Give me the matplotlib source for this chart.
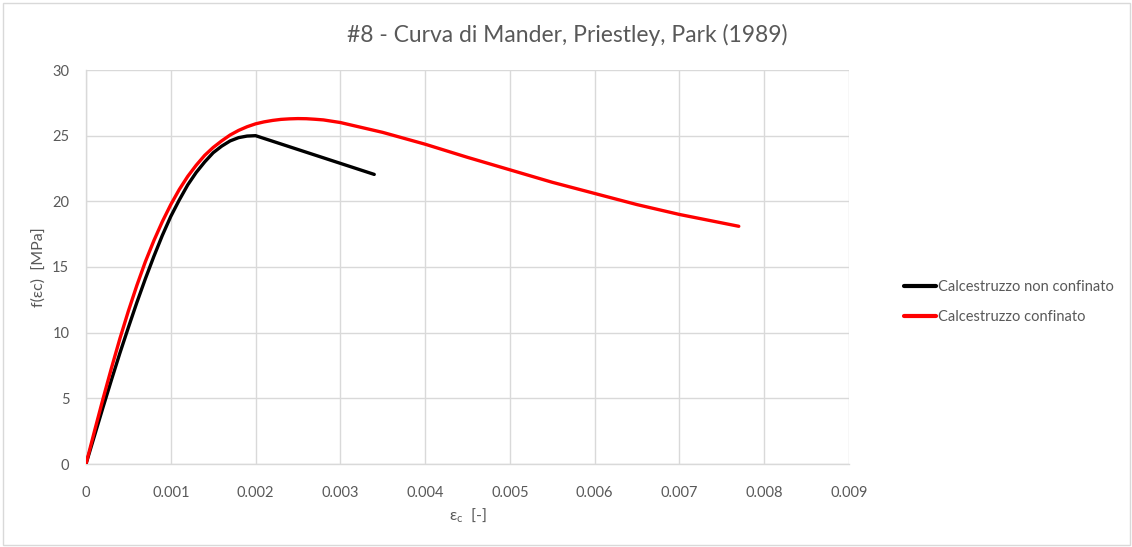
import matplotlib
matplotlib.use("Agg")
import matplotlib.pyplot as plt
from matplotlib.patches import Rectangle

plt.rcParams['font.family'] = ['Lato', 'DejaVu Sans']

# Unconfined concrete (Mander model, fc = 25 MPa)
eps_unconf = [0.0, 0.0001, 0.0002, 0.0003, 0.0004, 0.0005, 0.0006, 0.0007,
              0.0008, 0.0009, 0.0010, 0.0011, 0.0012, 0.0013, 0.0014, 0.0015,
              0.0016, 0.0017, 0.0018, 0.0019, 0.0020, 0.0034]
f_unconf = [0.0, 2.15, 4.3, 6.4, 8.45, 10.4, 12.3, 14.1, 15.8, 17.4, 18.85,
            20.1, 21.25, 22.2, 23.0, 23.7, 24.2, 24.6, 24.85, 24.97, 25.0, 22.05]

# Confined concrete (Mander model, fcc ~ 26.3 MPa)
eps_conf = [0.0, 0.0001, 0.0002, 0.0003, 0.0004, 0.0005, 0.0006, 0.0007,
            0.0008, 0.0009, 0.0010, 0.0011, 0.0012, 0.0013, 0.0014, 0.0015,
            0.0016, 0.0017, 0.0018, 0.0019, 0.0020, 0.0021, 0.0022, 0.0023,
            0.0024, 0.0025, 0.0026, 0.0027, 0.0028, 0.0030, 0.0035,
            0.0040, 0.0045, 0.0050, 0.0055, 0.0060, 0.0065, 0.0070, 0.0077]
f_conf = [0.0, 2.5, 4.95, 7.3, 9.55, 11.65, 13.6, 15.4, 17.0, 18.45, 19.75,
          20.9, 21.9, 22.75, 23.5, 24.1, 24.6, 25.05, 25.4, 25.68, 25.9, 26.05,
          26.16, 26.24, 26.28, 26.3, 26.29, 26.25, 26.2, 26.0, 25.25,
          24.35, 23.35, 22.4, 21.45, 20.6, 19.75, 19.0, 18.1]

series_names = ["Calcestruzzo non confinato", "Calcestruzzo confinato"]
x_ticks = [0, 0.001, 0.002, 0.003, 0.004, 0.005, 0.006, 0.007, 0.008, 0.009]
x_tick_labels = ["0", "0.001", "0.002", "0.003", "0.004", "0.005", "0.006",
                 "0.007", "0.008", "0.009"]
y_ticks = [0, 5, 10, 15, 20, 25, 30]

text_color = "#595959"
grid_color = "#d9d9d9"

fig = plt.figure(figsize=(11.32, 5.47), dpi=100)
fig.patches.append(Rectangle((0.003, 0.004), 0.995, 0.991, transform=fig.transFigure,
                             fill=False, edgecolor=grid_color, linewidth=1.0))

ax = fig.add_axes([86 / 1132, 1 - 464 / 547, (849 - 86) / 1132, (464 - 70) / 547])

ax.plot(eps_unconf, f_unconf, color="black", linewidth=2.4,
        solid_capstyle="round", solid_joinstyle="round", label=series_names[0], zorder=3)
ax.plot(eps_conf, f_conf, color="#ff0000", linewidth=2.4,
        solid_capstyle="round", solid_joinstyle="round", label=series_names[1], zorder=4)

ax.set_xlim(0, 0.009)
ax.set_ylim(0, 30)
ax.set_xticks(x_ticks)
ax.set_xticklabels(x_tick_labels)
ax.set_yticks(y_ticks)
ax.grid(True, color=grid_color, linewidth=1.0)
ax.set_axisbelow(True)
for side in ["top", "right"]:
    ax.spines[side].set_visible(False)
for side in ["left", "bottom"]:
    ax.spines[side].set_color(grid_color)
    ax.spines[side].set_linewidth(1.0)
ax.tick_params(axis="both", length=0, labelsize=10.5, colors=text_color)
ax.tick_params(axis="x", pad=16)
ax.tick_params(axis="y", pad=12)

ax.set_xlabel(r"$\mathregular{\varepsilon_c}$  [-]", fontsize=11.5, color=text_color, labelpad=4)
ax.set_ylabel("f(εc)  [MPa]", fontsize=11.5, color=text_color, labelpad=5)

fig.text(567 / 1132, 1 - 35 / 547, "#8 - Curva di Mander, Priestley, Park (1989)",
         ha="center", va="center", fontsize=16.5, color=text_color)

leg = ax.legend(loc="center left", bbox_to_anchor=(1.055, 0.41), frameon=False,
                fontsize=10.5, handlelength=2.2, handletextpad=0.15, labelspacing=1.1)
for t in leg.get_texts():
    t.set_color(text_color)
for h in leg.get_lines():
    h.set_linewidth(3.0)

fig.savefig("out.png", dpi=100)
